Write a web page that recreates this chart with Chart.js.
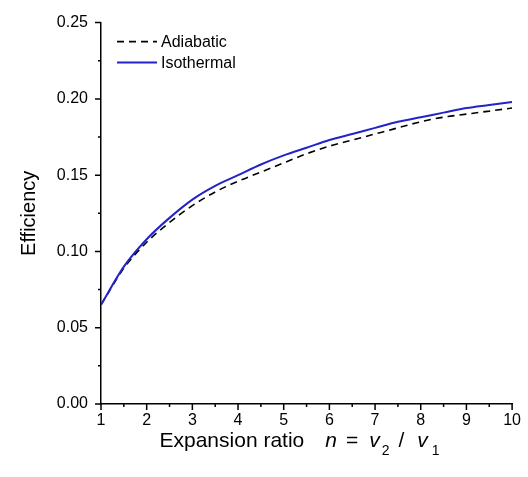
<!DOCTYPE html>
<html>
<head>
<meta charset="utf-8">
<script src="https://cdn.jsdelivr.net/npm/chart.js@4.4.0/dist/chart.umd.min.js"></script>
<style>
  html, body { margin: 0; padding: 0; background: #fff; }
  #wrap { width: 528px; height: 477px; }
</style>
</head>
<body>
<div id="wrap"><canvas id="effChart" width="528" height="477"></canvas></div>
<script>
// expansion ratio n = v2 / v1
const ratios = [1, 1.5, 2, 2.5, 3, 3.5, 4, 4.5, 5, 5.5, 6, 6.5, 7, 7.5, 8, 8.5, 9, 9.5, 10];
// efficiency values
const adiabatic = [0.065, 0.089, 0.106, 0.119, 0.130, 0.139, 0.146, 0.152, 0.158, 0.164, 0.169, 0.173, 0.177, 0.181, 0.185, 0.188, 0.190, 0.192, 0.194];
const isothermal = [0.065, 0.090, 0.108, 0.122, 0.134, 0.143, 0.150, 0.157, 0.163, 0.168, 0.173, 0.177, 0.181, 0.185, 0.188, 0.191, 0.194, 0.196, 0.198];
const seriesNames = ["Adiabatic", "Isothermal"];
const xTicks = [1, 2, 3, 4, 5, 6, 7, 8, 9, 10];
const yTicks = [0.00, 0.05, 0.10, 0.15, 0.20, 0.25];

const FONT = "'Liberation Sans', Arial, sans-serif";
const BLUE = "#2323c8";

const toPoints = arr => arr.map((v, i) => ({ x: ratios[i], y: v }));

// major + minor ticks drawn outward from the axis lines
const tickMarks = {
  id: "tickMarks",
  afterDraw(chart) {
    const { ctx, chartArea, scales } = chart;
    ctx.save();
    ctx.strokeStyle = "#000";
    ctx.lineWidth = 1.5;
    ctx.beginPath();
    yTicks.forEach((v, i) => {
      const y = scales.y.getPixelForValue(v);
      ctx.moveTo(chartArea.left - 6, y); ctx.lineTo(chartArea.left, y);
      if (i < yTicks.length - 1) {
        const ym = scales.y.getPixelForValue((v + yTicks[i + 1]) / 2);
        ctx.moveTo(chartArea.left - 3, ym); ctx.lineTo(chartArea.left, ym);
      }
    });
    xTicks.forEach((v, i) => {
      const x = scales.x.getPixelForValue(v);
      ctx.moveTo(x, chartArea.bottom); ctx.lineTo(x, chartArea.bottom + 6);
      if (i < xTicks.length - 1) {
        const xm = scales.x.getPixelForValue((v + xTicks[i + 1]) / 2);
        ctx.moveTo(xm, chartArea.bottom); ctx.lineTo(xm, chartArea.bottom + 3);
      }
    });
    ctx.stroke();
    ctx.restore();
  }
};

// legend in the upper left corner of the plot
const cornerLegend = {
  id: "cornerLegend",
  afterDraw(chart) {
    const { ctx, chartArea } = chart;
    ctx.save();
    chart.data.datasets.forEach((ds, i) => {
      const y = chartArea.top + 19 + i * 21;
      const x0 = chartArea.left + 16;
      ctx.beginPath();
      ctx.strokeStyle = ds.borderColor;
      ctx.lineWidth = ds.borderWidth;
      ctx.setLineDash(ds.borderDash || []);
      ctx.moveTo(x0, y); ctx.lineTo(x0 + 40, y);
      ctx.stroke();
      ctx.setLineDash([]);
      ctx.fillStyle = "#000";
      ctx.font = "16px " + FONT;
      ctx.textBaseline = "middle";
      ctx.fillText(ds.label, x0 + 44, y + 1);
    });
    ctx.restore();
  }
};

// x axis title with italic symbols and subscripts (gap = space before the piece)
const xTitle = {
  id: "xTitle",
  afterDraw(chart) {
    const { ctx, chartArea } = chart;
    const parts = [
      { t: "Expansion ratio", f: "21px " + FONT, dy: 0, gap: 0 },
      { t: "n", f: "italic 21px " + FONT, dy: 0, gap: 21 },
      { t: "=", f: "21px " + FONT, dy: 0, gap: 9 },
      { t: "v", f: "italic 21px " + FONT, dy: 0, gap: 11 },
      { t: "2", f: "14px " + FONT, dy: 8, gap: 2 },
      { t: "/", f: "21px " + FONT, dy: 0, gap: 9 },
      { t: "v", f: "italic 21px " + FONT, dy: 0, gap: 13 },
      { t: "1", f: "14px " + FONT, dy: 8, gap: 4 }
    ];
    ctx.save();
    ctx.fillStyle = "#000";
    ctx.textBaseline = "alphabetic";
    let total = 0;
    parts.forEach(p => { ctx.font = p.f; p.w = ctx.measureText(p.t).width; total += p.w + p.gap; });
    let x = (chartArea.left + chartArea.right) / 2 - 7 - total / 2;
    const base = chartArea.bottom + 43;
    parts.forEach(p => {
      x += p.gap;
      ctx.font = p.f;
      ctx.fillText(p.t, x, base + p.dy);
      x += p.w;
    });
    ctx.restore();
  }
};

new Chart(document.getElementById("effChart").getContext("2d"), {
  type: "line",
  data: {
    datasets: [
      {
        label: seriesNames[0],
        data: toPoints(adiabatic),
        borderColor: "#000",
        borderWidth: 1.6,
        borderDash: [7, 5],
        pointRadius: 0,
        cubicInterpolationMode: "monotone",
        order: 1
      },
      {
        label: seriesNames[1],
        data: toPoints(isothermal),
        borderColor: BLUE,
        borderWidth: 2,
        pointRadius: 0,
        cubicInterpolationMode: "monotone",
        order: 0
      }
    ]
  },
  options: {
    responsive: false,
    animation: false,
    devicePixelRatio: 1,
    layout: { padding: { left: 0, top: 19, right: 11, bottom: 0 } },
    plugins: { legend: { display: false }, tooltip: { enabled: false } },
    scales: {
      x: {
        type: "linear",
        min: 1,
        max: 10,
        afterBuildTicks: s => { s.ticks = xTicks.map(v => ({ value: v })); },
        afterFit: s => { s.height = 73; },
        grid: { display: true, drawOnChartArea: false, drawTicks: false },
        border: { display: true, color: "#000", width: 1.5 },
        ticks: { color: "#000", padding: 7, font: { family: FONT, size: 16 }, maxRotation: 0 }
      },
      y: {
        min: 0,
        max: 0.25,
        afterBuildTicks: s => { s.ticks = yTicks.map(v => ({ value: v })); },
        afterFit: s => { s.width = 101; },
        grid: { display: true, drawOnChartArea: false, drawTicks: false },
        border: { display: true, color: "#000", width: 1.5 },
        ticks: {
          color: "#000",
          padding: 13,
          font: { family: FONT, size: 16 },
          callback: v => v.toFixed(2)
        },
        title: {
          display: true,
          text: "Efficiency",
          color: "#000",
          font: { family: FONT, size: 20 },
          padding: { top: 17, bottom: 0 }
        }
      }
    }
  },
  plugins: [tickMarks, cornerLegend, xTitle]
});
</script>
</body>
</html>
